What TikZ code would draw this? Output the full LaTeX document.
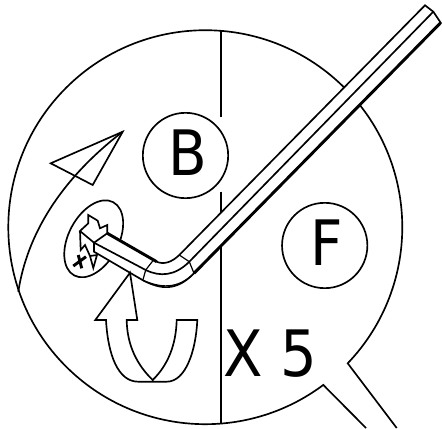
\documentclass[tikz,border=0pt]{standalone}
\usepackage{fontspec}
\setmainfont{DejaVu Sans Condensed}
\tikzset{
    letter/.style={circle,draw,line width=1.25pt,inner sep=0pt,minimum size=64pt,text depth=4pt,
        execute at begin node=\hspace*{3pt},font=\fontsize{47}{47}\selectfont},
    edge/.style={line width=1.25pt,line join=miter},
    heavy/.style={line width=2.2pt},
    thin/.style={line width=0.9pt},
}
\begin{document}
\begin{tikzpicture}[x=0.75pt,y=-0.75pt]
        \useasboundingbox (0,0) rectangle (442,428);
        \coordinate (C) at (205,227);
        % outline with the tail
        \draw[edge] (396.7,428) -- (347.7,363.3) arc[start angle=43.7,end angle=-306.8,radius=197] -- (366,428);
        % center line
        \foreach \a/\b in {30.5/117,191.7/211.7,246.7/423.5}{%
        \draw[edge] (221,\a) -- (221,\b);
        }
        \node[letter] (B) at (185.5,155.5) {B};
        \node[letter] (F) at (324.7,245.5) {F};
        \node[font=\fontsize{48}{48}\selectfont,inner sep=0pt] (X5) at (270.5,354) {X 5};
        % rotation arrow at the left
        \draw[edge] (50.7,163.3) -- (122.7,131.7) -- (92.7,185) -- cycle;
        \draw[edge] (18.3,291.7) .. controls (27,235) and (60,180) .. (122.7,131.7);
        % screw head
        \draw[edge,rotate around={62:(93.7,238.8)}] (93.7,238.8) ellipse [x radius=41.5,y radius=25];
        \draw[edge,fill=white] (94,242.7) -- (80,231) -- (88.3,223.3) -- (88.3,215) -- (97.7,220.7) -- (100,228.3) -- (107.3,225) -- (107.3,233.3);
        \draw[edge] (80,231) -- (80.7,250) -- (85,245) -- (90,256) -- (97,255) -- (93.3,268) -- (90,256);
        \draw[heavy] (73.3,266) -- (86,256.7) (78.3,255) -- (81.7,268.3);
        % key
        \draw[edge,fill=white] (94,242.7) -- (107.3,233.3) -- (156.7,261.7) .. controls (164,265) and (172,262) .. (179.3,255) -- (425,5.3)
            -- (433.3,11.7) -- (440.7,22.7) -- (194,273.3) .. controls (176,292) and (160,289) .. (143.3,280.5) -- (94,251.7) -- cycle;
        \draw[heavy] (107.3,233.3) -- (156.7,261.7);
        \draw[heavy] (440.7,22.7) -- (194,273.3);
        \draw[thin] (194,273.3) .. controls (177,290) and (160,287.5) .. (143.3,280.5);
        \draw[edge] (94,242.7) -- (145.7,270) .. controls (160,277) and (175,276) .. (189.3,261.7) -- (433.3,11.7);
        \draw[thin] (152.7,261) -- (145.7,270) -- (142.7,280.7) (179.3,255) -- (189.3,261.7) -- (194,273.3);
        % turning arrow below
        \draw[edge,fill=white] (130,272.7) -- (95.3,320) -- (106,320) .. controls (108,355) and (118,381.7) .. (138.3,381.7) -- (166.7,381.7)
            .. controls (186,381.7) and (196,350) .. (197.3,320) -- (176.7,320) .. controls (176,345) and (168,365) .. (152.7,380)
            .. controls (137,365) and (127,345) .. (126.7,320) -- (137.3,320) -- cycle;
\end{tikzpicture}
\end{document}
